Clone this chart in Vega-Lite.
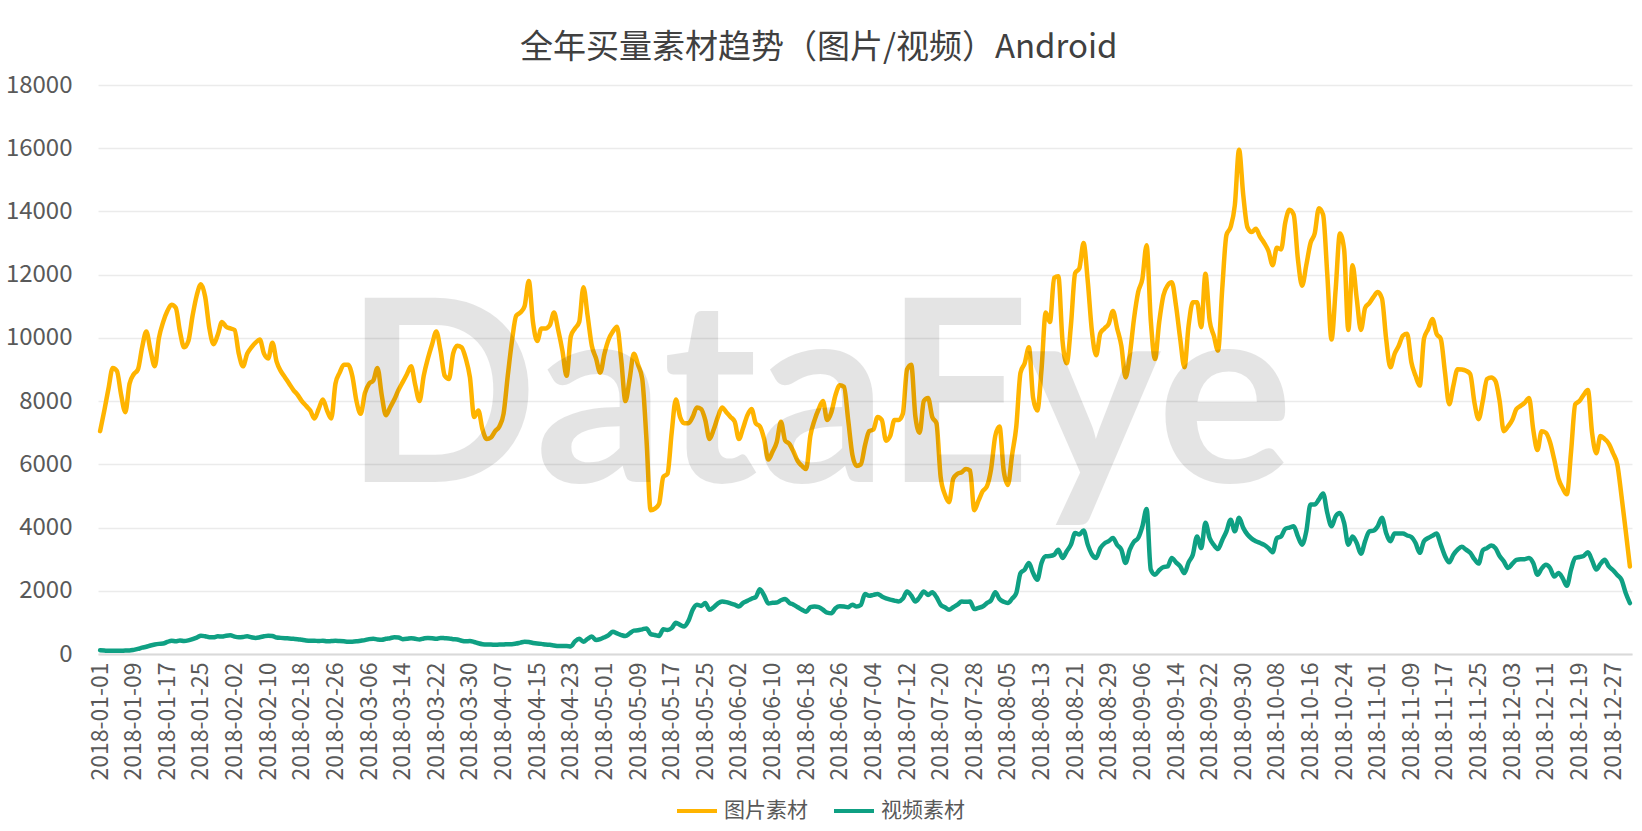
{
"$schema":"https://vega.github.io/schema/vega-lite/v6.json",
"width":1534,"height":569,
"autosize":{"type":"none"},
"padding":{"left":98,"top":85,"right":10,"bottom":177},
"background":"white",
"title":{"text":"全年买量素材趋势（图片/视频）Android","font":"Noto Sans CJK SC","fontSize":33,"fontWeight":"normal","color":"#404040","anchor":"middle","frame":"bounds","offset":8},
"layer":[
{"data":{"values":[
{"d":"2018-01-01","图片素材":7050,"视频素材":120},{"d":"2018-01-02","图片素材":7700,"视频素材":110},{"d":"2018-01-03","图片素材":8400,"视频素材":100},{"d":"2018-01-04","图片素材":9050,"视频素材":100},{"d":"2018-01-05","图片素材":8950,"视频素材":100},{"d":"2018-01-06","图片素材":8200,"视频素材":100},{"d":"2018-01-07","图片素材":7650,"视频素材":110},{"d":"2018-01-08","图片素材":8550,"视频素材":110},{"d":"2018-01-09","图片素材":8850,"视频素材":130},{"d":"2018-01-10","图片素材":9000,"视频素材":160},{"d":"2018-01-11","图片素材":9700,"视频素材":200},{"d":"2018-01-12","图片素材":10200,"视频素材":230},{"d":"2018-01-13","图片素材":9600,"视频素材":270},{"d":"2018-01-14","图片素材":9100,"视频素材":300},{"d":"2018-01-15","图片素材":10000,"视频素材":320},{"d":"2018-01-16","图片素材":10500,"视频素材":330},{"d":"2018-01-17","图片素材":10850,"视频素材":380},{"d":"2018-01-18","图片素材":11050,"视频素材":420},{"d":"2018-01-19","图片素材":10950,"视频素材":400},{"d":"2018-01-20","图片素材":10200,"视频素材":430},{"d":"2018-01-21","图片素材":9700,"视频素材":410},{"d":"2018-01-22","图片素材":9900,"视频素材":430},{"d":"2018-01-23","图片素材":10700,"视频素材":470},{"d":"2018-01-24","图片素材":11350,"视频素材":520},{"d":"2018-01-25","图片素材":11700,"视频素材":580},{"d":"2018-01-26","图片素材":11300,"视频素材":560},{"d":"2018-01-27","图片素材":10300,"视频素材":530},{"d":"2018-01-28","图片素材":9800,"视频素材":530},{"d":"2018-01-29","图片素材":10100,"视频素材":560},{"d":"2018-01-30","图片素材":10500,"视频素材":550},{"d":"2018-01-31","图片素材":10350,"视频素材":580},
{"d":"2018-02-01","图片素材":10300,"视频素材":590},{"d":"2018-02-02","图片素材":10250,"视频素材":550},{"d":"2018-02-03","图片素材":9500,"视频素材":530},{"d":"2018-02-04","图片素材":9100,"视频素材":540},{"d":"2018-02-05","图片素材":9500,"视频素材":560},{"d":"2018-02-06","图片素材":9700,"视频素材":530},{"d":"2018-02-07","图片素材":9850,"视频素材":510},{"d":"2018-02-08","图片素材":9950,"视频素材":530},{"d":"2018-02-09","图片素材":9500,"视频素材":560},{"d":"2018-02-10","图片素材":9350,"视频素材":580},{"d":"2018-02-11","图片素材":9850,"视频素材":570},{"d":"2018-02-12","图片素材":9250,"视频素材":520},{"d":"2018-02-13","图片素材":8950,"视频素材":510},{"d":"2018-02-14","图片素材":8750,"视频素材":500},{"d":"2018-02-15","图片素材":8550,"视频素材":490},{"d":"2018-02-16","图片素材":8350,"视频素材":480},{"d":"2018-02-17","图片素材":8200,"视频素材":470},{"d":"2018-02-18","图片素材":8000,"视频素材":450},{"d":"2018-02-19","图片素材":7850,"视频素材":430},{"d":"2018-02-20","图片素材":7700,"视频素材":420},{"d":"2018-02-21","图片素材":7450,"视频素材":420},{"d":"2018-02-22","图片素材":7750,"视频素材":410},{"d":"2018-02-23","图片素材":8050,"视频素材":420},{"d":"2018-02-24","图片素材":7700,"视频素材":400},{"d":"2018-02-25","图片素材":7450,"视频素材":410},{"d":"2018-02-26","图片素材":8550,"视频素材":420},{"d":"2018-02-27","图片素材":8900,"视频素材":410},{"d":"2018-02-28","图片素材":9150,"视频素材":400},
{"d":"2018-03-01","图片素材":9150,"视频素材":390},{"d":"2018-03-02","图片素材":8800,"视频素材":390},{"d":"2018-03-03","图片素材":8000,"视频素材":400},{"d":"2018-03-04","图片素材":7600,"视频素材":420},{"d":"2018-03-05","图片素材":8250,"视频素材":440},{"d":"2018-03-06","图片素材":8550,"视频素材":470},{"d":"2018-03-07","图片素材":8650,"视频素材":480},{"d":"2018-03-08","图片素材":9050,"视频素材":460},{"d":"2018-03-09","图片素材":8200,"视频素材":450},{"d":"2018-03-10","图片素材":7550,"视频素材":480},{"d":"2018-03-11","图片素材":7800,"视频素材":500},{"d":"2018-03-12","图片素材":8050,"视频素材":530},{"d":"2018-03-13","图片素材":8350,"视频素材":520},{"d":"2018-03-14","图片素材":8600,"视频素材":470},{"d":"2018-03-15","图片素材":8850,"视频素材":480},{"d":"2018-03-16","图片素材":9100,"视频素材":500},{"d":"2018-03-17","图片素材":8500,"视频素材":480},{"d":"2018-03-18","图片素材":8000,"视频素材":460},{"d":"2018-03-19","图片素材":8800,"视频素材":490},{"d":"2018-03-20","图片素材":9350,"视频素材":510},{"d":"2018-03-21","图片素材":9800,"视频素材":500},{"d":"2018-03-22","图片素材":10200,"视频素材":480},{"d":"2018-03-23","图片素材":9600,"视频素材":510},{"d":"2018-03-24","图片素材":8800,"视频素材":500},{"d":"2018-03-25","图片素材":8700,"视频素材":490},{"d":"2018-03-26","图片素材":9500,"视频素材":470},{"d":"2018-03-27","图片素材":9750,"视频素材":460},{"d":"2018-03-28","图片素材":9700,"视频素材":420},{"d":"2018-03-29","图片素材":9350,"视频素材":400},{"d":"2018-03-30","图片素材":8750,"视频素材":410},{"d":"2018-03-31","图片素材":7500,"视频素材":380},
{"d":"2018-04-01","图片素材":7700,"视频素材":340},{"d":"2018-04-02","图片素材":7100,"视频素材":310},{"d":"2018-04-03","图片素材":6800,"视频素材":300},{"d":"2018-04-04","图片素材":6850,"视频素材":300},{"d":"2018-04-05","图片素材":7050,"视频素材":290},{"d":"2018-04-06","图片素材":7200,"视频素材":300},{"d":"2018-04-07","图片素材":7600,"视频素材":300},{"d":"2018-04-08","图片素材":8800,"视频素材":310},{"d":"2018-04-09","图片素材":9900,"视频素材":310},{"d":"2018-04-10","图片素材":10700,"视频素材":330},{"d":"2018-04-11","图片素材":10800,"视频素材":360},{"d":"2018-04-12","图片素材":11000,"视频素材":390},{"d":"2018-04-13","图片素材":11800,"视频素材":380},{"d":"2018-04-14","图片素材":10500,"视频素材":350},{"d":"2018-04-15","图片素材":9900,"视频素材":330},{"d":"2018-04-16","图片素材":10300,"视频素材":320},{"d":"2018-04-17","图片素材":10300,"视频素材":300},{"d":"2018-04-18","图片素材":10400,"视频素材":290},{"d":"2018-04-19","图片素材":10800,"视频素材":270},{"d":"2018-04-20","图片素材":10250,"视频素材":250},{"d":"2018-04-21","图片素材":9600,"视频素材":250},{"d":"2018-04-22","图片素材":8800,"视频素材":250},{"d":"2018-04-23","图片素材":10050,"视频素材":240},{"d":"2018-04-24","图片素材":10300,"视频素材":400},{"d":"2018-04-25","图片素材":10500,"视频素材":480},{"d":"2018-04-26","图片素材":11600,"视频素材":390},{"d":"2018-04-27","图片素材":10700,"视频素材":480},{"d":"2018-04-28","图片素材":9750,"视频素材":550},{"d":"2018-04-29","图片素材":9350,"视频素材":440},{"d":"2018-04-30","图片素材":8900,"视频素材":470},
{"d":"2018-05-01","图片素材":9500,"视频素材":530},{"d":"2018-05-02","图片素材":9950,"视频素材":600},{"d":"2018-05-03","图片素材":10200,"视频素材":700},{"d":"2018-05-04","图片素材":10350,"视频素材":650},{"d":"2018-05-05","图片素材":9300,"视频素材":600},{"d":"2018-05-06","图片素材":8000,"视频素材":570},{"d":"2018-05-07","图片素材":8700,"视频素材":650},{"d":"2018-05-08","图片素材":9500,"视频素材":740},{"d":"2018-05-09","图片素材":9150,"视频素材":750},{"d":"2018-05-10","图片素材":8700,"视频素材":780},{"d":"2018-05-11","图片素材":6800,"视频素材":810},{"d":"2018-05-12","图片素材":4550,"视频素材":630},{"d":"2018-05-13","图片素材":4600,"视频素材":600},{"d":"2018-05-14","图片素材":4750,"视频素材":570},{"d":"2018-05-15","图片素材":5600,"视频素材":780},{"d":"2018-05-16","图片素材":5700,"视频素材":760},{"d":"2018-05-17","图片素材":7000,"视频素材":820},{"d":"2018-05-18","图片素材":8050,"视频素材":990},{"d":"2018-05-19","图片素材":7500,"视频素材":920},{"d":"2018-05-20","图片素材":7300,"视频素材":870},{"d":"2018-05-21","图片素材":7300,"视频素材":1050},{"d":"2018-05-22","图片素材":7500,"视频素材":1400},{"d":"2018-05-23","图片素材":7800,"视频素材":1560},{"d":"2018-05-24","图片素材":7750,"视频素材":1520},{"d":"2018-05-25","图片素材":7400,"视频素材":1610},{"d":"2018-05-26","图片素材":6800,"视频素材":1400},{"d":"2018-05-27","图片素材":7100,"视频素材":1480},{"d":"2018-05-28","图片素材":7500,"视频素材":1600},{"d":"2018-05-29","图片素材":7800,"视频素材":1660},{"d":"2018-05-30","图片素材":7650,"视频素材":1640},{"d":"2018-05-31","图片素材":7500,"视频素材":1600},
{"d":"2018-06-01","图片素材":7350,"视频素材":1560},{"d":"2018-06-02","图片素材":6800,"视频素材":1500},{"d":"2018-06-03","图片素材":7150,"视频素材":1620},{"d":"2018-06-04","图片素材":7550,"视频素材":1680},{"d":"2018-06-05","图片素材":7750,"视频素材":1750},{"d":"2018-06-06","图片素材":7300,"视频素材":1800},{"d":"2018-06-07","图片素材":7200,"视频素材":2050},{"d":"2018-06-08","图片素材":6800,"视频素材":1850},{"d":"2018-06-09","图片素材":6150,"视频素材":1600},{"d":"2018-06-10","图片素材":6400,"视频素材":1620},{"d":"2018-06-11","图片素材":6700,"视频素材":1630},{"d":"2018-06-12","图片素材":7350,"视频素材":1700},{"d":"2018-06-13","图片素材":6750,"视频素材":1740},{"d":"2018-06-14","图片素材":6650,"视频素材":1620},{"d":"2018-06-15","图片素材":6400,"视频素材":1560},{"d":"2018-06-16","图片素材":6100,"视频素材":1480},{"d":"2018-06-17","图片素材":5950,"视频素材":1400},{"d":"2018-06-18","图片素材":5850,"视频素材":1340},{"d":"2018-06-19","图片素材":6900,"视频素材":1480},{"d":"2018-06-20","图片素材":7400,"视频素材":1500},{"d":"2018-06-21","图片素材":7750,"视频素材":1480},{"d":"2018-06-22","图片素材":8000,"视频素材":1400},{"d":"2018-06-23","图片素材":7400,"视频素材":1310},{"d":"2018-06-24","图片素材":7650,"视频素材":1290},{"d":"2018-06-25","图片素材":8200,"视频素材":1450},{"d":"2018-06-26","图片素材":8500,"视频素材":1510},{"d":"2018-06-27","图片素材":8450,"视频素材":1500},{"d":"2018-06-28","图片素材":7400,"视频素材":1480},{"d":"2018-06-29","图片素材":6300,"视频素材":1560},{"d":"2018-06-30","图片素材":5950,"视频素材":1500},
{"d":"2018-07-01","图片素材":6000,"视频素材":1550},{"d":"2018-07-02","图片素材":6600,"视频素材":1900},{"d":"2018-07-03","图片素材":7050,"视频素材":1840},{"d":"2018-07-04","图片素材":7100,"视频素材":1870},{"d":"2018-07-05","图片素材":7500,"视频素材":1900},{"d":"2018-07-06","图片素材":7400,"视频素材":1820},{"d":"2018-07-07","图片素材":6750,"视频素材":1760},{"d":"2018-07-08","图片素材":6900,"视频素材":1720},{"d":"2018-07-09","图片素材":7400,"视频素材":1690},{"d":"2018-07-10","图片素材":7400,"视频素材":1660},{"d":"2018-07-11","图片素材":7600,"视频素材":1750},{"d":"2018-07-12","图片素材":9000,"视频素材":1980},{"d":"2018-07-13","图片素材":9150,"视频素材":1850},{"d":"2018-07-14","图片素材":7500,"视频素材":1660},{"d":"2018-07-15","图片素材":7000,"视频素材":1800},{"d":"2018-07-16","图片素材":8000,"视频素材":1980},{"d":"2018-07-17","图片素材":8100,"视频素材":1870},{"d":"2018-07-18","图片素材":7500,"视频素材":1950},{"d":"2018-07-19","图片素材":7300,"视频素材":1800},{"d":"2018-07-20","图片素材":5600,"视频素材":1560},{"d":"2018-07-21","图片素材":5050,"视频素材":1480},{"d":"2018-07-22","图片素材":4800,"视频素材":1400},{"d":"2018-07-23","图片素材":5550,"视频素材":1480},{"d":"2018-07-24","图片素材":5700,"视频素材":1560},{"d":"2018-07-25","图片素材":5750,"视频素材":1660},{"d":"2018-07-26","图片素材":5850,"视频素材":1650},{"d":"2018-07-27","图片素材":5800,"视频素材":1660},{"d":"2018-07-28","图片素材":4550,"视频素材":1420},{"d":"2018-07-29","图片素材":4850,"视频素材":1460},{"d":"2018-07-30","图片素材":5150,"视频素材":1500},{"d":"2018-07-31","图片素材":5300,"视频素材":1610},
{"d":"2018-08-01","图片素材":5850,"视频素材":1700},{"d":"2018-08-02","图片素材":6900,"视频素材":1950},{"d":"2018-08-03","图片素材":7200,"视频素材":1740},{"d":"2018-08-04","图片素材":5800,"视频素材":1650},{"d":"2018-08-05","图片素材":5350,"视频素材":1610},{"d":"2018-08-06","图片素材":6300,"视频素材":1750},{"d":"2018-08-07","图片素材":7200,"视频素材":1930},{"d":"2018-08-08","图片素材":8900,"视频素材":2560},{"d":"2018-08-09","图片素材":9200,"视频素材":2670},{"d":"2018-08-10","图片素材":9700,"视频素材":2880},{"d":"2018-08-11","图片素材":8100,"视频素材":2560},{"d":"2018-08-12","图片素材":7700,"视频素材":2350},{"d":"2018-08-13","图片素材":9000,"视频素材":2880},{"d":"2018-08-14","图片素材":10800,"视频素材":3090},{"d":"2018-08-15","图片素材":10500,"视频素材":3100},{"d":"2018-08-16","图片素材":11900,"视频素材":3140},{"d":"2018-08-17","图片素材":11950,"视频素材":3300},{"d":"2018-08-18","图片素材":9900,"视频素材":3040},{"d":"2018-08-19","图片素材":9200,"视频素材":3250},{"d":"2018-08-20","图片素材":10400,"视频素材":3460},{"d":"2018-08-21","图片素材":12050,"视频素材":3830},{"d":"2018-08-22","图片素材":12200,"视频素材":3780},{"d":"2018-08-23","图片素材":13000,"视频素材":3910},{"d":"2018-08-24","图片素材":11800,"视频素材":3460},{"d":"2018-08-25","图片素材":10200,"视频素材":3150},{"d":"2018-08-26","图片素材":9450,"视频素材":3040},{"d":"2018-08-27","图片素材":10150,"视频素材":3350},{"d":"2018-08-28","图片素材":10300,"视频素材":3500},{"d":"2018-08-29","图片素材":10450,"视频素材":3570},{"d":"2018-08-30","图片素材":10850,"视频素材":3670},{"d":"2018-08-31","图片素材":10300,"视频素材":3450},
{"d":"2018-09-01","图片素材":9750,"视频素材":3300},{"d":"2018-09-02","图片素材":8750,"视频素材":2880},{"d":"2018-09-03","图片素材":9450,"视频素材":3300},{"d":"2018-09-04","图片素材":10600,"视频素材":3550},{"d":"2018-09-05","图片素材":11450,"视频素材":3670},{"d":"2018-09-06","图片素材":11870,"视频素材":4040},{"d":"2018-09-07","图片素材":12930,"视频素材":4590},{"d":"2018-09-08","图片素材":10550,"视频素材":2670},{"d":"2018-09-09","图片素材":9330,"视频素材":2510},{"d":"2018-09-10","图片素材":10500,"视频素材":2650},{"d":"2018-09-11","图片素材":11340,"视频素材":2750},{"d":"2018-09-12","图片素材":11660,"视频素材":2770},{"d":"2018-09-13","图片素材":11760,"视频素材":3040},{"d":"2018-09-14","图片素材":11020,"视频素材":2900},{"d":"2018-09-15","图片素材":9970,"视频素材":2770},{"d":"2018-09-16","图片素材":9070,"视频素材":2560},{"d":"2018-09-17","图片素材":10390,"视频素材":2900},{"d":"2018-09-18","图片素材":11130,"视频素材":3140},{"d":"2018-09-19","图片素材":11130,"视频素材":3720},{"d":"2018-09-20","图片素材":10340,"视频素材":3350},{"d":"2018-09-21","图片素材":12030,"视频素材":4150},{"d":"2018-09-22","图片素材":10550,"视频素材":3670},{"d":"2018-09-23","图片素材":10070,"视频素材":3450},{"d":"2018-09-24","图片素材":9600,"视频素材":3320},{"d":"2018-09-25","图片素材":11550,"视频素材":3600},{"d":"2018-09-26","图片素材":13250,"视频素材":3880},{"d":"2018-09-27","图片素材":13510,"视频素材":4250},{"d":"2018-09-28","图片素材":14200,"视频素材":3880},{"d":"2018-09-29","图片素材":15950,"视频素材":4310},{"d":"2018-09-30","图片素材":14520,"视频素材":3990},
{"d":"2018-10-01","图片素材":13500,"视频素材":3780},{"d":"2018-10-02","图片素材":13350,"视频素材":3650},{"d":"2018-10-03","图片素材":13450,"视频素材":3570},{"d":"2018-10-04","图片素材":13200,"视频素材":3510},{"d":"2018-10-05","图片素材":13000,"视频素材":3450},{"d":"2018-10-06","图片素材":12750,"视频素材":3350},{"d":"2018-10-07","图片素材":12300,"视频素材":3220},{"d":"2018-10-08","图片素材":12850,"视频素材":3670},{"d":"2018-10-09","图片素材":12800,"视频素材":3720},{"d":"2018-10-10","图片素材":13650,"视频素材":3960},{"d":"2018-10-11","图片素材":14050,"视频素材":4000},{"d":"2018-10-12","图片素材":13900,"视频素材":4040},{"d":"2018-10-13","图片素材":12500,"视频素材":3720},{"d":"2018-10-14","图片素材":11650,"视频素材":3460},{"d":"2018-10-15","图片素材":12300,"视频素材":3880},{"d":"2018-10-16","图片素材":13000,"视频素材":4730},{"d":"2018-10-17","图片素材":13300,"视频素材":4730},{"d":"2018-10-18","图片素材":14100,"视频素材":4890},{"d":"2018-10-19","图片素材":13900,"视频素材":5080},{"d":"2018-10-20","图片素材":12000,"视频素材":4460},{"d":"2018-10-21","图片素材":9950,"视频素材":4040},{"d":"2018-10-22","图片素材":11550,"视频素材":4360},{"d":"2018-10-23","图片素材":13300,"视频素材":4460},{"d":"2018-10-24","图片素材":12800,"视频素材":4150},{"d":"2018-10-25","图片素材":10250,"视频素材":3460},{"d":"2018-10-26","图片素材":12300,"视频素材":3720},{"d":"2018-10-27","图片素材":11250,"视频素材":3510},{"d":"2018-10-28","图片素材":10250,"视频素材":3170},{"d":"2018-10-29","图片素材":10950,"视频素材":3570},{"d":"2018-10-30","图片素材":11100,"视频素材":3880},{"d":"2018-10-31","图片素材":11300,"视频素材":3900},
{"d":"2018-11-01","图片素材":11450,"视频素材":4040},{"d":"2018-11-02","图片素材":11250,"视频素材":4310},{"d":"2018-11-03","图片素材":9970,"视频素材":3830},{"d":"2018-11-04","图片素材":9070,"视频素材":3570},{"d":"2018-11-05","图片素材":9490,"视频素材":3810},{"d":"2018-11-06","图片素材":9750,"视频素材":3810},{"d":"2018-11-07","图片素材":10070,"视频素材":3810},{"d":"2018-11-08","图片素材":10130,"视频素材":3750},{"d":"2018-11-09","图片素材":9230,"视频素材":3700},{"d":"2018-11-10","图片素材":8800,"视频素材":3510},{"d":"2018-11-11","图片素材":8490,"视频素材":3200},{"d":"2018-11-12","图片素材":9970,"视频素材":3570},{"d":"2018-11-13","图片素材":10280,"视频素材":3670},{"d":"2018-11-14","图片素材":10600,"视频素材":3740},{"d":"2018-11-15","图片素材":10130,"视频素材":3810},{"d":"2018-11-16","图片素材":9970,"视频素材":3460},{"d":"2018-11-17","图片素材":8910,"视频素材":3100},{"d":"2018-11-18","图片素材":7900,"视频素材":2900},{"d":"2018-11-19","图片素材":8490,"视频素材":3140},{"d":"2018-11-20","图片素材":9010,"视频素材":3300},{"d":"2018-11-21","图片素材":9000,"视频素材":3390},{"d":"2018-11-22","图片素材":8960,"视频素材":3300},{"d":"2018-11-23","图片素材":8860,"视频素材":3200},{"d":"2018-11-24","图片素材":7960,"视频素材":3000},{"d":"2018-11-25","图片素材":7430,"视频素材":2860},{"d":"2018-11-26","图片素材":8010,"视频素材":3280},{"d":"2018-11-27","图片素材":8700,"视频素材":3350},{"d":"2018-11-28","图片素材":8750,"视频素材":3430},{"d":"2018-11-29","图片素材":8640,"视频素材":3350},{"d":"2018-11-30","图片素材":8010,"视频素材":3100},
{"d":"2018-12-01","图片素材":7050,"视频素材":2930},{"d":"2018-12-02","图片素材":7200,"视频素材":2720},{"d":"2018-12-03","图片素材":7400,"视频素材":2850},{"d":"2018-12-04","图片素材":7750,"视频素材":2980},{"d":"2018-12-05","图片素材":7850,"视频素材":3000},{"d":"2018-12-06","图片素材":7950,"视频素材":3000},{"d":"2018-12-07","图片素材":8100,"视频素材":3040},{"d":"2018-12-08","图片素材":7100,"视频素材":2880},{"d":"2018-12-09","图片素材":6450,"视频素材":2510},{"d":"2018-12-10","图片素材":7050,"视频素材":2700},{"d":"2018-12-11","图片素材":7000,"视频素材":2820},{"d":"2018-12-12","图片素材":6700,"视频素材":2720},{"d":"2018-12-13","图片素材":6150,"视频素材":2450},{"d":"2018-12-14","图片素材":5550,"视频素材":2560},{"d":"2018-12-15","图片素材":5250,"视频素材":2400},{"d":"2018-12-16","图片素材":5050,"视频素材":2160},{"d":"2018-12-17","图片素材":6400,"视频素材":2670},{"d":"2018-12-18","图片素材":7900,"视频素材":3040},{"d":"2018-12-19","图片素材":8000,"视频素材":3070},{"d":"2018-12-20","图片素材":8200,"视频素材":3100},{"d":"2018-12-21","图片素材":8350,"视频素材":3220},{"d":"2018-12-22","图片素材":7000,"视频素材":2960},{"d":"2018-12-23","图片素材":6350,"视频素材":2670},{"d":"2018-12-24","图片素材":6900,"视频素材":2850},{"d":"2018-12-25","图片素材":6800,"视频素材":2980},{"d":"2018-12-26","图片素材":6650,"视频素材":2770},{"d":"2018-12-27","图片素材":6350,"视频素材":2650},{"d":"2018-12-28","图片素材":6000,"视频素材":2500},{"d":"2018-12-29","图片素材":5000,"视频素材":2350},{"d":"2018-12-30","图片素材":3900,"视频素材":1930},{"d":"2018-12-31","图片素材":2770,"视频素材":1610}
]},
"transform":[{"fold":["图片素材","视频素材"],"as":["series","value"]}],
"mark":{"type":"line","interpolate":"monotone","strokeWidth":4.5,"strokeJoin":"round","strokeCap":"round"},
"encoding":{
"x":{"field":"d","type":"ordinal","sort":"ascending","scale":{"type":"point","padding":0.5},
"axis":{"title":null,"values":["2018-01-01","2018-01-09","2018-01-17","2018-01-25","2018-02-02","2018-02-10","2018-02-18","2018-02-26","2018-03-06","2018-03-14","2018-03-22","2018-03-30","2018-04-07","2018-04-15","2018-04-23","2018-05-01","2018-05-09","2018-05-17","2018-05-25","2018-06-02","2018-06-10","2018-06-18","2018-06-26","2018-07-04","2018-07-12","2018-07-20","2018-07-28","2018-08-05","2018-08-13","2018-08-21","2018-08-29","2018-09-06","2018-09-14","2018-09-22","2018-09-30","2018-10-08","2018-10-16","2018-10-24","2018-11-01","2018-11-09","2018-11-17","2018-11-25","2018-12-03","2018-12-11","2018-12-19","2018-12-27"],
"labelAngle":-90,"labelFont":"Noto Sans CJK SC","labelFontSize":23,"labelColor":"#595959","labelOverlap":false,"ticks":false,"grid":false,"domainColor":"#D9D9D9","domainWidth":2,"labelPadding":8}},
"y":{"field":"value","type":"quantitative","scale":{"domain":[0,18000],"nice":false},
"axis":{"title":null,"values":[0,2000,4000,6000,8000,10000,12000,14000,16000,18000],"format":"d","labelFont":"Noto Sans CJK SC","labelFontSize":24,"labelColor":"#595959","ticks":false,"domain":false,"gridColor":"#EBEBEB","gridWidth":1.5,"labelPadding":26}},
"color":{"field":"series","type":"nominal","scale":{"domain":["图片素材","视频素材"],"range":["#FFB400","#0FA083"]},
"legend":{"title":null,"orient":"none","legendX":577,"legendY":704,"direction":"horizontal","symbolType":"stroke","symbolSize":1600,"symbolStrokeWidth":4,"labelFont":"Noto Sans CJK SC","labelFontSize":21,"labelColor":"#595959","columnPadding":18,"labelOffset":5,"padding":0}}
}},
{"data":{"values":[{"d":"2018-06-21","v":5450,"t":"DataEye"}]},
"mark":{"type":"text","font":"Lato","fontWeight":"bold","fontSize":255,"align":"center","baseline":"alphabetic","color":"#000000","opacity":0.1},
"encoding":{"x":{"field":"d","type":"ordinal"},"y":{"field":"v","type":"quantitative"},"text":{"field":"t"}}}
],
"config":{"view":{"stroke":null}}
}
